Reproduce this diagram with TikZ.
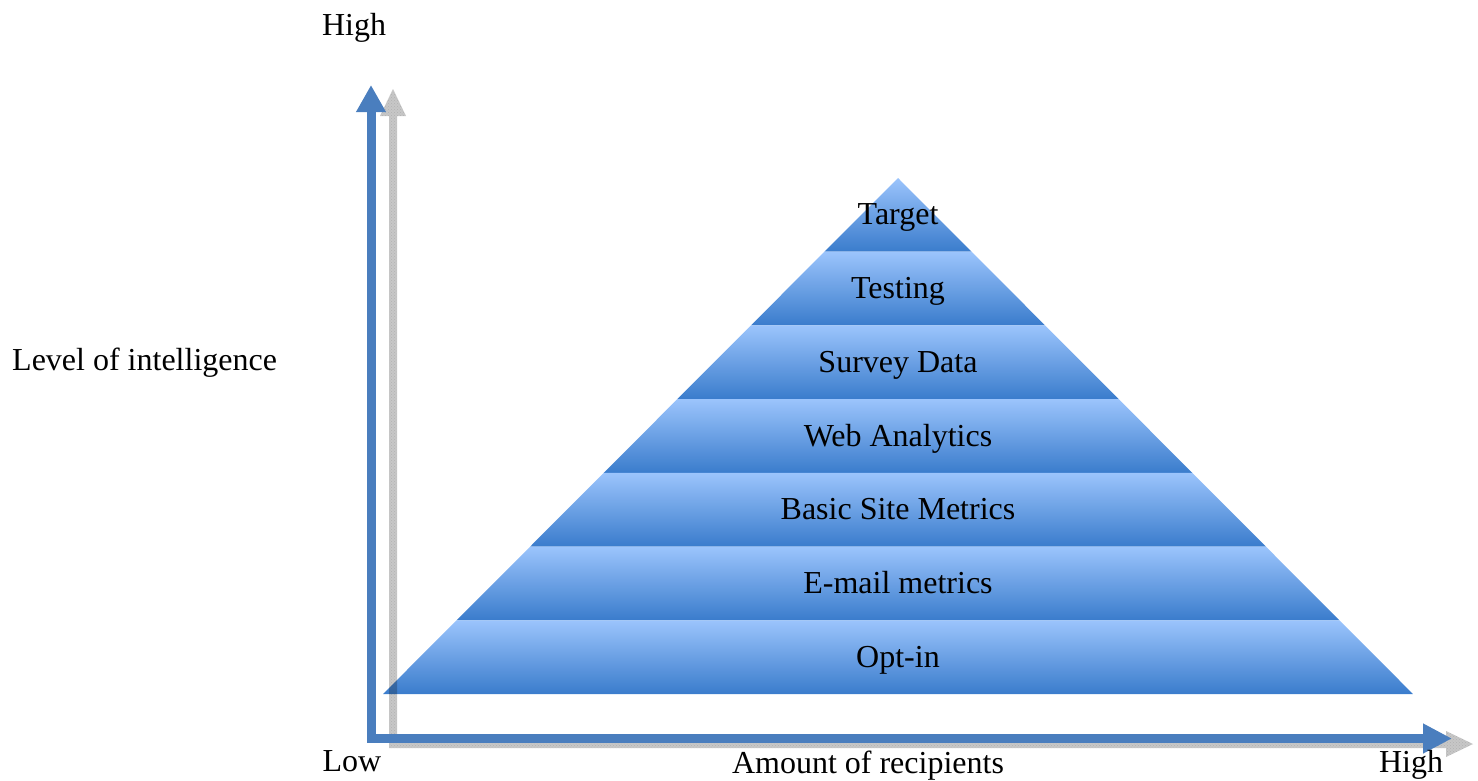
\documentclass[tikz,border=0pt]{standalone}
\usepackage{fontspec}
\setmainfont{Liberation Serif}
\usetikzlibrary{arrows.meta,patterns}
\definecolor{axisblue}{RGB}{74,126,190}
\definecolor{laytop}{RGB}{155,196,252}
\definecolor{laybot}{RGB}{58,124,204}
\begin{document}
\begin{tikzpicture}[x=1pt,y=-1pt,
  lbl/.style={inner sep=0pt,font=\fontsize{32}{38}\selectfont,anchor=base},
  layer/.style={top color=laytop,bottom color=laybot,draw=none},
  blueaxis/.style={draw=axisblue,line width=9pt,line join=miter,
    {Triangle[width=28pt,length=27pt]}-{Triangle[width=28pt,length=29pt]}},
  shadowaxis/.style={fill=black,fill opacity=0.22,draw=none,
    postaction={pattern=crosshatch dots,pattern color=black!60}}]
\useasboundingbox (0,0) rectangle (1478,780);
% pyramid layers
\foreach \name [count=\k from 0] in {Target,Testing,Survey Data,Web Analytics,Basic Site Metrics,E-mail metrics,Opt-in}{
  \pgfmathsetmacro\yt{178+73.714*\k}
  \pgfmathsetmacro\yb{\yt+73.714}
  \pgfmathsetmacro\wt{(\yt-178)*0.998}
  \pgfmathsetmacro\wb{(\yb-178)*0.998}
  \path[layer] (898-\wt,\yt) -- (898+\wt,\yt) -- (898+\wb,\yb) -- (898-\wb,\yb) -- cycle;
  \node[lbl] (L\k) at (898,{(\yt+\yb)/2+10}) {\name};
}
% axes
\coordinate (ytip) at (371,85);
\coordinate (corner) at (371,738.5);
\coordinate (xtip) at (1452,738.5);
\path[shadowaxis] (393,89) -- (406,116) -- (397,116) -- (397,740) -- (1446,740) -- (1446,731)
  -- (1473,744) -- (1446,757) -- (1446,748) -- (389,748) -- (389,116) -- (380,116) -- cycle;
\draw[blueaxis] (ytip) -- (corner) -- (xtip);
% axis labels
\node[lbl] (yhigh) at (354,35) {High};
\node[lbl,anchor=base west] (ylabel) at (12,370) {Level of intelligence};
\node[lbl] (low) at (352,771) {Low};
\node[lbl] (xlabel) at (868,773) {Amount of recipients};
\node[lbl] (xhigh) at (1411,772) {High};
\end{tikzpicture}
\end{document}
